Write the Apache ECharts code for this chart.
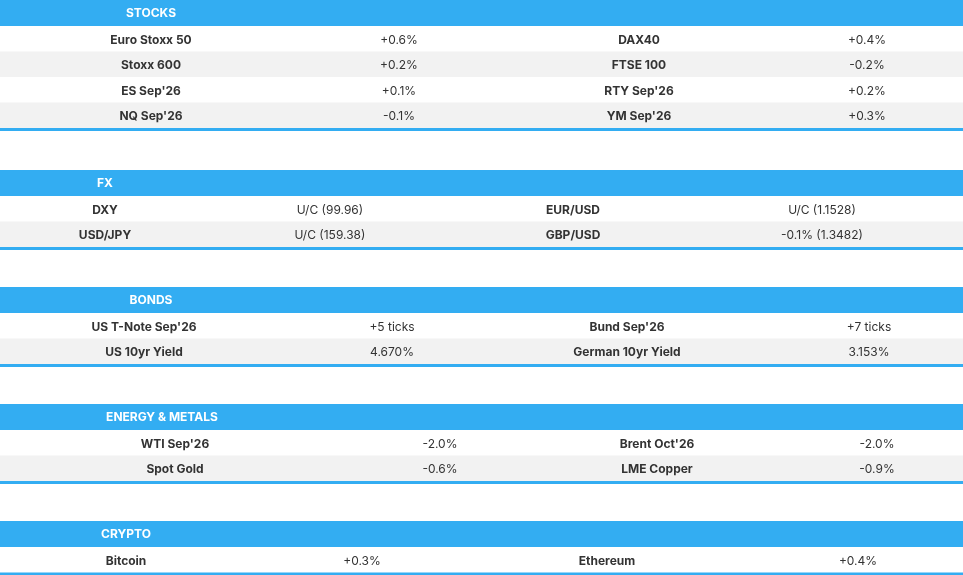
<!DOCTYPE html>
<html>
<head>
<meta charset="utf-8">
<script src="https://cdn.jsdelivr.net/npm/echarts@6/dist/echarts.min.js"></script>
<style>
  html, body { margin: 0; padding: 0; background: #fff; }
  #chart { width: 963px; height: 575px; }
</style>
</head>
<body>
<div id="chart"></div>
<script>
// section titles
const sectionTitles = ['STOCKS', 'FX', 'BONDS', 'ENERGY & METALS', 'CRYPTO']

// rows per section: [name1, value1, name2, value2]
const stocksRows = [
  ['Euro Stoxx 50', '+0.6%', 'DAX40', '+0.4%'],
  ['Stoxx 600', '+0.2%', 'FTSE 100', '-0.2%'],
  ["ES Sep'26", '+0.1%', "RTY Sep'26", '+0.2%'],
  ["NQ Sep'26", '-0.1%', "YM Sep'26", '+0.3%']
]
const fxRows = [
  ['DXY', 'U/C (99.96)', 'EUR/USD', 'U/C (1.1528)'],
  ['USD/JPY', 'U/C (159.38)', 'GBP/USD', '-0.1% (1.3482)']
]
const bondsRows = [
  ["US T-Note Sep'26", '+5 ticks', "Bund Sep'26", '+7 ticks'],
  ['US 10yr Yield', '4.670%', 'German 10yr Yield', '3.153%']
]
const energyRows = [
  ["WTI Sep'26", '-2.0%', "Brent Oct'26", '-2.0%'],
  ['Spot Gold', '-0.6%', 'LME Copper', '-0.9%']
]
const cryptoRows = [
  ['Bitcoin', '+0.3%', 'Ethereum', '+0.4%']
]

// layout (pixels)
const sectionTops = [0, 170, 287, 404, 521]
const headerX = [151, 105, 151, 162, 126]
const columnX = [
  [151, 399, 639, 867],
  [105, 330, 573, 822],
  [144, 392, 627, 869],
  [175, 440, 657, 877],
  [126, 362, 607, 858]
]
const allRows = [stocksRows, fxRows, bondsRows, energyRows, cryptoRows]

const W = 963
const headerH = 26
const rowH = 25.5
const blue = '#33adf2'
const font = 'Inter, "Noto Sans", sans-serif'

const elements = []
sectionTitles.forEach((title, s) => {
  const top = sectionTops[s]
  elements.push({ type: 'rect', shape: { x: 0, y: top, width: W, height: headerH }, style: { fill: blue } })
  elements.push({
    type: 'text', x: headerX[s], y: top + headerH / 2,
    style: { text: title, fill: '#fff', font: 'bold 12px ' + font, align: 'center', verticalAlign: 'middle' }
  })
  const rows = allRows[s]
  rows.forEach((row, r) => {
    const y = top + headerH + r * rowH
    elements.push({
      type: 'rect', shape: { x: 0, y: y, width: W, height: rowH },
      style: { fill: r % 2 === 0 ? '#ffffff' : '#f2f2f2' }
    })
    row.forEach((cell, c) => {
      elements.push({
        type: 'text', x: columnX[s][c], y: y + rowH / 2 + 1.5,
        style: {
          text: cell, fill: '#333', align: 'center', verticalAlign: 'middle',
          font: (c % 2 === 0 ? 'bold ' : '') + '12px ' + font
        }
      })
    })
  })
  const bottom = top + headerH + rows.length * rowH
  elements.push({ type: 'rect', shape: { x: 0, y: bottom, width: W, height: 3 }, style: { fill: blue } })
})

const chart = echarts.init(document.getElementById('chart'))
chart.setOption({ animation: false, graphic: { elements: elements } })
</script>
</body>
</html>
